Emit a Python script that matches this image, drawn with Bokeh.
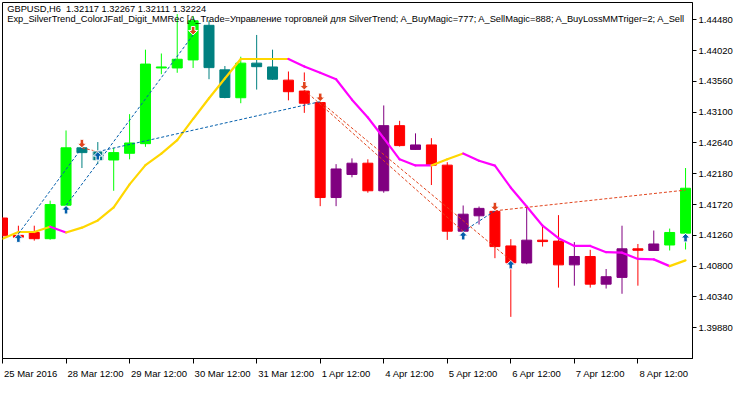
from bokeh.plotting import figure
from bokeh.models import Range1d, FixedTicker, PrintfTickFormatter, ColumnDataSource
from bokeh.core.properties import value
from bokeh.embed import file_html
from bokeh.resources import INLINE

# ---------------- data ----------------
bars = list(range(44))
opens = [1.41519, 1.41260, 1.41303, 1.41210, 1.41710, 1.42568, 1.42511, 1.42386, 1.42486, 1.42630,
         1.43761, 1.43761, 1.43881, 1.44398, 1.43733, 1.43316, 1.43833, 1.43776, 1.43579, 1.43416,
         1.43244, 1.41825, 1.42170, 1.42338, 1.41926, 1.42899, 1.42544, 1.42611, 1.42309, 1.41322,
         1.41552, 1.41619, 1.41102, 1.40847, 1.41188, 1.41174, 1.40819, 1.40944, 1.40531, 1.40632,
         1.41059, 1.41034, 1.41116, 1.41293]
highs = [1.41533, 1.41404, 1.41404, 1.41778, 1.42827, 1.42583, 1.42654, 1.42568, 1.43071, 1.44034,
         1.43977, 1.44566, 1.44538, 1.44466, 1.43790, 1.43929, 1.44254, 1.44034, 1.43708, 1.43694,
         1.43258, 1.42324, 1.42410, 1.42396, 1.43201, 1.42971, 1.42784, 1.42712, 1.42353, 1.41706,
         1.41691, 1.41634, 1.41203, 1.41691, 1.41389, 1.41562, 1.41159, 1.41044, 1.40757, 1.41404,
         1.41131, 1.41332, 1.41361, 1.42266]
lows = [1.41238, 1.41217, 1.41181, 1.41195, 1.41576, 1.42266, 1.42324, 1.41926, 1.42396, 1.42583,
        1.43668, 1.43689, 1.43761, 1.43593, 1.43308, 1.43234, 1.43438, 1.43582, 1.43277, 1.43090,
        1.41696, 1.41696, 1.42127, 1.41897, 1.41897, 1.42587, 1.42539, 1.42012, 1.41192, 1.41310,
        1.41422, 1.40919, 1.40042, 1.40829, 1.41092, 1.40479, 1.40508, 1.40479, 1.40465, 1.40387,
        1.40508, 1.41034, 1.41034, 1.41049]
closes = [1.41253, 1.41231, 1.41210, 1.41720, 1.42568, 1.42496, 1.42386, 1.42496, 1.42640, 1.43819,
          1.43776, 1.43891, 1.44466, 1.43766, 1.43320, 1.43833, 1.43780, 1.43593, 1.43406, 1.43234,
          1.41825, 1.42252, 1.42338, 1.41926, 1.42899, 1.42601, 1.42611, 1.42309, 1.41322, 1.41576,
          1.41663, 1.41092, 1.40850, 1.41188, 1.41167, 1.40819, 1.40944, 1.40531, 1.40642, 1.41059,
          1.41037, 1.41131, 1.41303, 1.41964]
# SilverTrend state per bar: 1 = up trend, -1 = down trend
trend = [-1] * 3 + [1] * 15 + [-1] * 24 + [1] * 2

# ColorJFatl_Digit line
jfatl = [1.41210, 1.41310, 1.41310, 1.41389, 1.41303, 1.41375, 1.41483, 1.41677, 1.42022, 1.42309,
         1.42482, 1.42683, 1.42999, 1.43308, 1.43603, 1.43895, 1.43895, 1.43895, 1.43895, 1.43783,
         1.43689, 1.43593, 1.43287, 1.43021, 1.42712, 1.42396, 1.42305, 1.42305, 1.42396, 1.42482,
         1.42374, 1.42302, 1.41972, 1.41691, 1.41404, 1.41217, 1.41102, 1.41102, 1.41008, 1.41001,
         1.40908, 1.40901, 1.40800, 1.40886]

# deals
buy_bar = [1, 4, 6, 29, 32, 43]
buy_price = [1.41282, 1.41706, 1.42511, 1.41318, 1.40886, 1.41289]
buy_boxed = [False, False, True, False, False, False]
sell_bar = [5, 12, 19, 20, 31]
sell_price = [1.42568, 1.44254, 1.43431, 1.43258, 1.41627]

# position lines (open -> close)
buy_pos_open_bar = [1, 4, 6, 29]
buy_pos_open_price = [1.41282, 1.41706, 1.42511, 1.41318]
buy_pos_close_bar = [5, 12, 20, 31]
buy_pos_close_price = [1.42568, 1.44254, 1.43258, 1.41627]
sell_pos_open_bar = [5, 19, 20, 31]
sell_pos_open_price = [1.42568, 1.43431, 1.43258, 1.41627]
sell_pos_close_bar = [6, 29, 32, 43]
sell_pos_close_price = [1.42511, 1.41318, 1.40886, 1.41936]

y_ticks = [1.39880, 1.40340, 1.40800, 1.41260, 1.41720, 1.42180, 1.42640, 1.43100, 1.43560, 1.44020, 1.44480]
x_tick_bars = [0, 4, 8, 12, 16, 20, 24, 28, 32, 36, 40]
x_tick_labels = ["25 Mar 2016", "28 Mar 12:00", "29 Mar 12:00", "30 Mar 12:00", "31 Mar 12:00",
                 "1 Apr 12:00", "4 Apr 12:00", "5 Apr 12:00", "6 Apr 12:00", "7 Apr 12:00", "8 Apr 12:00"]

title_1 = "GBPUSD,H6\u00a0 1.32117 1.32267 1.32111 1.32224"
title_2 = ("Exp_SilverTrend_ColorJFatl_Digit_MMRec [A_Trade=Управление торговлей для SilverTrend; "
           "A_BuyMagic=777; A_SellMagic=888; A_BuyLossMMTriger=2; A_Sell")

# ---------------- layout / styles ----------------
FRAME_W, FRAME_H = 690, 356
X0, X1 = 0.0, 43.4375
Y0, Y1 = 1.39420, 1.44739
SX = (X1 - X0) / FRAME_W       # data units per pixel (x)
SY = (Y1 - Y0) / FRAME_H       # data units per pixel (y)
FONT = "Liberation Sans"
FS_AX = 9.5
FS_TITLE = "9.3px"
# Liberation Sans advance widths (per 1000 em) for label alignment
ADV = {" ": 278, ":": 278, "M": 833, "a": 556, "r": 333, "A": 667, "p": 556}

def text_w(s):
    return sum(ADV.get(ch, 556) for ch in s) * FS_AX / 1000.0

UP_BULL, UP_BEAR = "#00FF00", "#008080"
DN_BULL, DN_BEAR = "#800080", "#FF0000"
LINE_UP, LINE_DN = "#FFD700", "#FF00FF"
BUY_C, SELL_C = "#035FAC", "#E1441D"

p = figure(frame_width=FRAME_W, frame_height=FRAME_H,
           x_range=Range1d(X0, X1), y_range=Range1d(Y0, Y1),
           y_axis_location="right", output_backend="svg", toolbar_location=None,
           min_border_left=2, min_border_top=2, min_border_bottom=0, min_border_right=0,
           background_fill_color="white", border_fill_color="white")
p.grid.visible = False
p.outline_line_color = "black"
p.outline_line_width = 1

# price axis
yax = p.yaxis[0]
yax.ticker = FixedTicker(ticks=y_ticks)
yax.formatter = PrintfTickFormatter(format="%.5f")
yax.major_tick_in = 0
yax.major_tick_out = 4
yax.minor_tick_line_color = None
yax.axis_line_color = "black"
yax.major_tick_line_color = "black"
yax.major_label_standoff = 2
yax.major_label_text_font = FONT
yax.major_label_text_font_size = f"{FS_AX}px"
yax.major_label_text_color = "black"

# time axis: tick marks at bars (minor ticks), labels left-aligned after each tick
label_pos = [round(b + (1.5 + text_w(t) / 2.0) * SX, 4) for b, t in zip(x_tick_bars, x_tick_labels)]
xax = p.xaxis[0]
xax.ticker = FixedTicker(ticks=label_pos, minor_ticks=x_tick_bars)
xax.major_label_overrides = {lp: t for lp, t in zip(label_pos, x_tick_labels)}
xax.major_tick_line_color = None
xax.major_tick_in = 0
xax.major_tick_out = 0
xax.minor_tick_in = 0
xax.minor_tick_out = 5
xax.minor_tick_line_color = "black"
xax.axis_line_color = "black"
xax.major_label_standoff = 4
xax.major_label_text_font = FONT
xax.major_label_text_font_size = f"{FS_AX}px"
xax.major_label_text_color = "black"

# candles
colors = []
for o, c, t in zip(opens, closes, trend):
    bull = c >= o
    if t > 0:
        colors.append(UP_BULL if bull else UP_BEAR)
    else:
        colors.append(DN_BULL if bull else DN_BEAR)
csrc = ColumnDataSource(dict(x=bars, high=highs, low=lows,
                             top=[max(o, c) for o, c in zip(opens, closes)],
                             bottom=[min(o, c) for o, c in zip(opens, closes)],
                             color=colors))
p.segment(x0="x", y0="low", x1="x", y1="high", line_color="color", line_width=1, source=csrc)
p.vbar(x="x", width=10 * SX, top="top", bottom="bottom", fill_color="color",
       line_color="color", line_width=1, source=csrc)

# colored JFatl line
seg_col = []
prev = LINE_UP
for a, b in zip(jfatl[:-1], jfatl[1:]):
    if b > a:
        prev = LINE_UP
    elif b < a:
        prev = LINE_DN
    seg_col.append(prev)
p.segment(x0=bars[:-1], y0=jfatl[:-1], x1=bars[1:], y1=jfatl[1:], line_color=seg_col,
          line_width=2.2, line_cap="round")

# position lines
p.segment(x0=buy_pos_open_bar, y0=buy_pos_open_price, x1=buy_pos_close_bar, y1=buy_pos_close_price,
          line_color=BUY_C, line_width=1, line_dash="3 2")
p.segment(x0=sell_pos_open_bar, y0=sell_pos_open_price, x1=sell_pos_close_bar, y1=sell_pos_close_price,
          line_color=SELL_C, line_width=1, line_dash="3 2")

# deal arrows
SHAPE = [(0, 0), (4.5, 4.5), (1.8, 4.5), (1.8, 8.5), (-1.8, 8.5), (-1.8, 4.5), (-4.5, 4.5)]

def arrow(bx, price, up):
    sgn = -1 if up else 1
    return ([bx + dx * SX for dx, dy in SHAPE], [price + sgn * dy * SY for dx, dy in SHAPE])

bxs, bys = zip(*[arrow(b, pr, True) for b, pr in zip(buy_bar, buy_price)])
sxs, sys_ = zip(*[arrow(b, pr, False) for b, pr in zip(sell_bar, sell_price)])
p.patches(xs=list(bxs), ys=list(bys), fill_color=BUY_C, line_color="white", line_width=1)
p.patches(xs=list(sxs), ys=list(sys_), fill_color=SELL_C, line_color="white", line_width=1)
boxed_x = [b for b, f in zip(buy_bar, buy_boxed) if f]
boxed_y = [pr - 4.3 * SY for pr, f in zip(buy_price, buy_boxed) if f]
p.rect(x=boxed_x, y=boxed_y, width=10, height=10, width_units="screen", height_units="screen",
       fill_alpha=0, line_color="white", line_width=1)

# header texts (clipped by frame)
p.text(x=[X0, X0], y=[Y1, Y1], text=[title_1, title_2], x_offset=4.7, y_offset=[1.5, 11],
       text_baseline="top", text_align="left", text_font=value(FONT), text_font_size=FS_TITLE,
       text_color="black")

open("out.html", "w").write(file_html(p, INLINE))
